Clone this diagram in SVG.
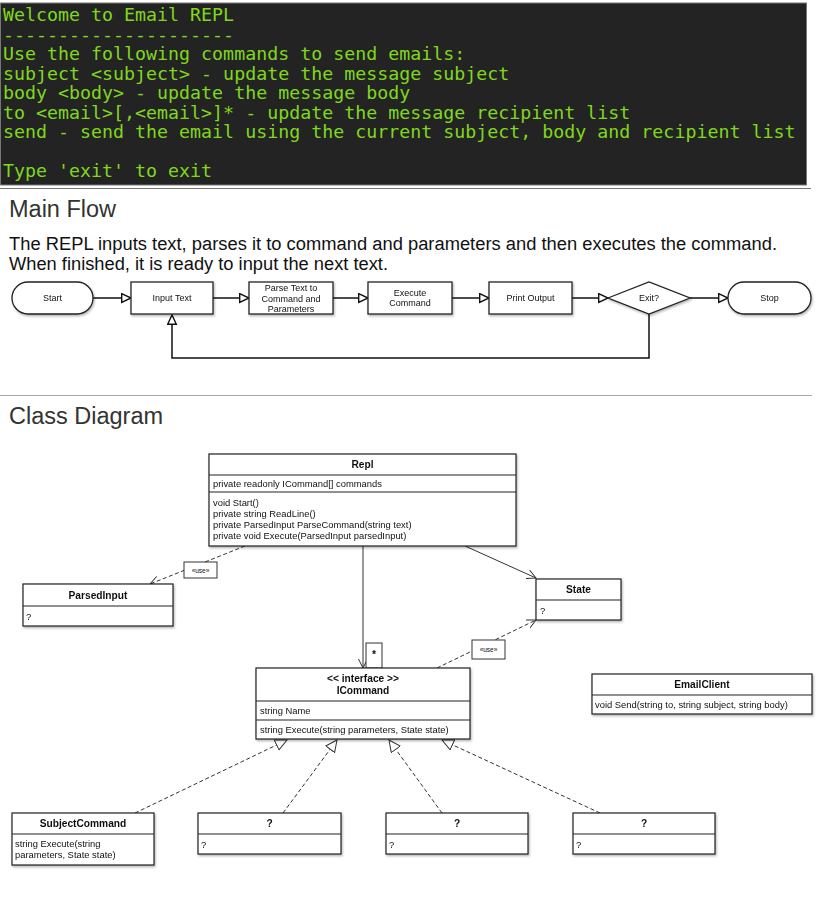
<svg xmlns="http://www.w3.org/2000/svg" width="825" height="908" viewBox="0 0 825 908">
<style>
.term{font-family:"DejaVu Sans Mono",monospace;font-size:18.3px;fill:#7fd81c}
.h{font-family:"Liberation Sans",Arial,sans-serif;font-size:23.5px;fill:#333}
.p{font-family:"Liberation Sans",Arial,sans-serif;font-size:17.6px;fill:#111}
.ft{font-family:"Liberation Sans",Arial,sans-serif;font-size:9px;fill:#111;text-anchor:middle}
.box{fill:#fff;stroke:#222;stroke-width:1.2}
.fbox{fill:#fff;stroke:#222;stroke-width:1.3}
.fl{fill:none;stroke:#111;stroke-width:1.5}
.ct{font-family:"Liberation Sans",Arial,sans-serif;font-size:10.2px;font-weight:bold;fill:#111;text-anchor:middle}
.cm{font-family:"Liberation Sans",Arial,sans-serif;font-size:9.4px;fill:#111}
.sm{font-family:"Liberation Sans",Arial,sans-serif;font-size:6.5px;fill:#111;text-anchor:middle}
.sol{fill:none;stroke:#333;stroke-width:1}
.dash{fill:none;stroke:#333;stroke-width:1;stroke-dasharray:4 2.5}
.div{stroke:#222;stroke-width:1.2}
</style>
<defs>
<filter id="sh" x="-10%" y="-10%" width="130%" height="140%">
<feDropShadow dx="1" dy="1.5" stdDeviation="1" flood-color="#000" flood-opacity="0.3"/>
</filter>
<marker id="fh" markerWidth="14" markerHeight="12" refX="10" refY="5" orient="auto" markerUnits="userSpaceOnUse">
<path d="M0.7,0.7 L10,5 L0.7,9.3 Z" fill="#fff" stroke="#111" stroke-width="1.4"/>
</marker>
<marker id="va" markerWidth="12" markerHeight="12" refX="9" refY="5" orient="auto" markerUnits="userSpaceOnUse">
<path d="M0,0.5 L9,5 L0,9.5" fill="none" stroke="#333" stroke-width="1"/>
</marker>
<marker id="gt" markerWidth="14" markerHeight="14" refX="12" refY="6" orient="auto" markerUnits="userSpaceOnUse">
<path d="M0.5,0.5 L12,6 L0.5,11.5 Z" fill="#fff" stroke="#333" stroke-width="1"/>
</marker>
</defs>

<g id="terminal">
<rect x="0.5" y="3" width="806" height="182" fill="#232323" stroke="#777" stroke-width="1"/>
<text class="term" x="3" y="21">Welcome to Email REPL</text>
<text class="term" x="3" y="40.5">---------------------</text>
<text class="term" x="3" y="60">Use the following commands to send emails:</text>
<text class="term" x="3" y="79.5">subject &lt;subject&gt; - update the message subject</text>
<text class="term" x="3" y="99">body &lt;body&gt; - update the message body</text>
<text class="term" x="3" y="118.5">to &lt;email&gt;[,&lt;email&gt;]* - update the message recipient list</text>
<text class="term" x="3" y="138">send - send the email using the current subject, body and recipient list</text>
<text class="term" x="3" y="177">Type 'exit' to exit</text>
</g>
<line x1="0" y1="188.5" x2="811" y2="188.5" stroke="#777" stroke-width="1.2"/>

<text class="h" x="9" y="217">Main Flow</text>
<text class="p" x="9" y="250" textLength="768" lengthAdjust="spacingAndGlyphs">The REPL inputs text, parses it to command and parameters and then executes the command.</text>
<text class="p" x="9" y="270" textLength="379" lengthAdjust="spacingAndGlyphs">When finished, it is ready to input the next text.</text>

<g id="flow-connectors">
<line class="fl" x1="93" y1="298" x2="131" y2="298" marker-end="url(#fh)"/>
<line class="fl" x1="213" y1="298" x2="249" y2="298" marker-end="url(#fh)"/>
<line class="fl" x1="333" y1="298" x2="368" y2="298" marker-end="url(#fh)"/>
<line class="fl" x1="452" y1="298" x2="489" y2="298" marker-end="url(#fh)"/>
<line class="fl" x1="572" y1="298" x2="608" y2="298" marker-end="url(#fh)"/>
<line class="fl" x1="690" y1="298" x2="728" y2="298" marker-end="url(#fh)"/>
<polyline class="fl" points="649,314 649,358 172,358 172,315" marker-end="url(#fh)"/>
</g>

<g id="start" filter="url(#sh)"><rect class="fbox" x="12" y="282" width="81" height="32" rx="16"/><text class="ft" x="52.5" y="301">Start</text></g>
<g id="input-text" filter="url(#sh)"><rect class="fbox" x="131" y="282" width="82" height="32"/><text class="ft" x="172" y="301">Input Text</text></g>
<g id="parse-text" filter="url(#sh)"><rect class="fbox" x="249" y="282" width="84" height="32"/><text class="ft" x="291" y="291">Parse Text to</text><text class="ft" x="291" y="301.5">Command and</text><text class="ft" x="291" y="311.5">Parameters</text></g>
<g id="execute-command" filter="url(#sh)"><rect class="fbox" x="368" y="282" width="84" height="32"/><text class="ft" x="410" y="296">Execute</text><text class="ft" x="410" y="306">Command</text></g>
<g id="print-output" filter="url(#sh)"><rect class="fbox" x="489" y="282" width="83" height="32"/><text class="ft" x="530.5" y="301">Print Output</text></g>
<g id="exit" filter="url(#sh)"><polygon class="fbox" points="608,298 649,282 690,298 649,314"/><text class="ft" x="649" y="301">Exit?</text></g>
<g id="stop" filter="url(#sh)"><rect class="fbox" x="728" y="282" width="83" height="32" rx="16"/><text class="ft" x="769.5" y="301">Stop</text></g>

<line x1="0" y1="395.5" x2="812" y2="395.5" stroke="#aaa" stroke-width="1"/>
<text class="h" x="9" y="424">Class Diagram</text>

<g id="class-connectors">
<line class="dash" x1="245" y1="546" x2="150" y2="584" marker-end="url(#va)"/>
<line class="sol" x1="465" y1="546" x2="536" y2="578" marker-end="url(#va)"/>
<line class="sol" x1="363" y1="546" x2="363" y2="668" marker-end="url(#va)"/>
<line class="dash" x1="437" y1="668" x2="536" y2="620" marker-end="url(#va)"/>
<line class="dash" x1="135" y1="813" x2="287" y2="740" marker-end="url(#gt)"/>
<line class="dash" x1="283" y1="813" x2="337" y2="740" marker-end="url(#gt)"/>
<line class="dash" x1="442" y1="813" x2="389" y2="740" marker-end="url(#gt)"/>
<line class="dash" x1="600" y1="813" x2="442" y2="740" marker-end="url(#gt)"/>
<g id="use-label-1"><rect x="184" y="562" width="33" height="16" fill="#fff" stroke="#333" stroke-width="1"/><text class="sm" x="200.5" y="572.5">«use»</text></g>
<g id="use-label-2"><rect x="472" y="640" width="33" height="19" fill="#fff" stroke="#333" stroke-width="1"/><text class="sm" x="488.5" y="652">«use»</text></g>
<g id="multiplicity"><rect x="366" y="643" width="16" height="25" fill="#fff" stroke="#333" stroke-width="1"/><text class="ct" x="374" y="658">*</text></g>
</g>

<g id="repl" filter="url(#sh)">
<rect class="box" x="209" y="454" width="307" height="92"/>
<line class="div" x1="209" y1="475" x2="516" y2="475"/>
<line class="div" x1="209" y1="492" x2="516" y2="492"/>
<text class="ct" x="362.5" y="468">Repl</text>
<text class="cm" x="213" y="487">private readonly ICommand[] commands</text>
<text class="cm" x="213" y="506">void Start()</text>
<text class="cm" x="213" y="517">private string ReadLine()</text>
<text class="cm" x="213" y="528">private ParsedInput ParseCommand(string text)</text>
<text class="cm" x="213" y="539">private void Execute(ParsedInput parsedInput)</text>
</g>

<g id="parsed-input" filter="url(#sh)">
<rect class="box" x="23" y="584" width="150" height="42"/>
<line class="div" x1="23" y1="606" x2="173" y2="606"/>
<text class="ct" x="98" y="599">ParsedInput</text>
<text class="cm" x="26" y="620">?</text>
</g>

<g id="state" filter="url(#sh)">
<rect class="box" x="536" y="579" width="85" height="41"/>
<line class="div" x1="536" y1="600" x2="621" y2="600"/>
<text class="ct" x="578.5" y="593">State</text>
<text class="cm" x="540" y="614">?</text>
</g>

<g id="icommand" filter="url(#sh)">
<rect class="box" x="256" y="668" width="214" height="71"/>
<line class="div" x1="256" y1="701" x2="470" y2="701"/>
<line class="div" x1="256" y1="720" x2="470" y2="720"/>
<text class="ct" x="363" y="682">&lt;&lt; interface &gt;&gt;</text>
<text class="ct" x="363" y="694">ICommand</text>
<text class="cm" x="260" y="714">string Name</text>
<text class="cm" x="260" y="733">string Execute(string parameters, State state)</text>
</g>

<g id="email-client" filter="url(#sh)">
<rect class="box" x="592" y="674" width="220" height="40"/>
<line class="div" x1="592" y1="695" x2="812" y2="695"/>
<text class="ct" x="702" y="688">EmailClient</text>
<text class="cm" x="595" y="708">void Send(string to, string subject, string body)</text>
</g>

<g id="subject-command" filter="url(#sh)">
<rect class="box" x="12" y="813" width="142" height="52"/>
<line class="div" x1="12" y1="834" x2="154" y2="834"/>
<text class="ct" x="83" y="827">SubjectCommand</text>
<text class="cm" x="15" y="847">string Execute(string</text>
<text class="cm" x="15" y="858">parameters, State state)</text>
</g>

<g id="command-2" filter="url(#sh)">
<rect class="box" x="198" y="813" width="143" height="41"/>
<line class="div" x1="198" y1="834" x2="341" y2="834"/>
<text class="ct" x="269.5" y="827">?</text>
<text class="cm" x="201" y="848">?</text>
</g>

<g id="command-3" filter="url(#sh)">
<rect class="box" x="386" y="813" width="142" height="41"/>
<line class="div" x1="386" y1="834" x2="528" y2="834"/>
<text class="ct" x="457" y="827">?</text>
<text class="cm" x="389" y="848">?</text>
</g>

<g id="command-4" filter="url(#sh)">
<rect class="box" x="573" y="813" width="142" height="41"/>
<line class="div" x1="573" y1="834" x2="715" y2="834"/>
<text class="ct" x="644" y="827">?</text>
<text class="cm" x="576" y="848">?</text>
</g>
</svg>
